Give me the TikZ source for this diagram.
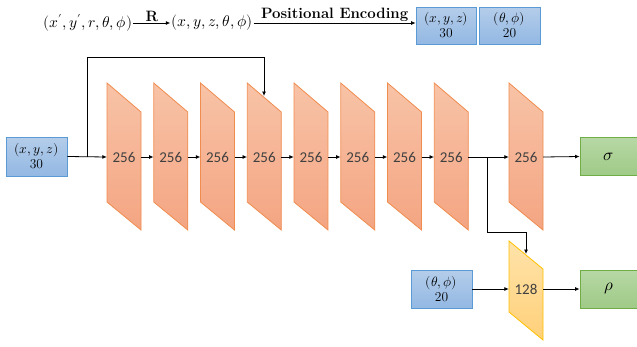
\documentclass[tikz,border=0pt]{standalone}
\usepackage{fontspec}
\usepackage{unicode-math}
\newfontfamily\calibri{Carlito}
\usetikzlibrary{arrows.meta}
\definecolor{bluet}{HTML}{B4CDEA}
\definecolor{blueb}{HTML}{93B8E3}
\definecolor{blued}{HTML}{5B9BD5}
\definecolor{oranget}{HTML}{F8C3A7}
\definecolor{orangeb}{HTML}{F4A582}
\definecolor{oranged}{HTML}{F08C4E}
\definecolor{greent}{HTML}{B7D8A5}
\definecolor{greenb}{HTML}{9FCA87}
\definecolor{greend}{HTML}{70AD47}
\definecolor{yellowt}{HTML}{FFE3AA}
\definecolor{yellowb}{HTML}{FFD079}
\definecolor{yellowd}{HTML}{FFC000}
\definecolor{txtgray}{HTML}{404040}
\tikzset{
  arr/.style={-{Latex[length=4.5pt,width=4pt]}, line width=0.8pt},
  bluebox/.style={draw=blued, line width=0.8pt, top color=bluet, bottom color=blueb,
    minimum width=60pt, minimum height=38pt, inner sep=0pt, align=center,
    font=\fontsize{13.5}{15}\selectfont},
  greenbox/.style={draw=greend, line width=0.8pt, top color=greent, bottom color=greenb,
    minimum width=57pt, minimum height=38pt, inner sep=0pt,
    font=\fontsize{17}{19}\selectfont},
  orangelayer/.style={draw=oranged, line width=0.8pt, top color=oranget, bottom color=orangeb},
  yellowlayer/.style={draw=yellowd, line width=0.8pt, top color=yellowt, bottom color=yellowb},
  layertext/.style={minimum width=34pt, minimum height=20pt, inner sep=0pt,
    text=txtgray, font=\calibri\fontsize{15}{16}\selectfont},
  toptext/.style={inner sep=1pt, font=\fontsize{15.5}{17}\selectfont},
  lbl/.style={font=\bfseries\fontsize{15}{17}\selectfont, inner sep=1pt}
}
\begin{document}
\begin{tikzpicture}[x=1pt,y=-1pt]
\useasboundingbox (0,0) rectangle (637,346);

% top row
\node[toptext] (p1) at (88,23) {$(x',y',r,\theta,\phi)$};
\node[toptext] (p2) at (212,23) {$(x,y,z,\theta,\phi)$};
\node[bluebox, minimum width=60pt, minimum height=37pt] (e1) at (446,25.5) {$(x,y,z)$\\30};
\node[bluebox, minimum width=61pt, minimum height=37pt] (e2) at (509.5,25.5) {$(\theta,\phi)$\\20};
\draw[arr] (p1.east) -- node[lbl, above] (rl) {R} (p2.west);
\draw[arr] (p2.east) -- node[lbl, above] (pe) {Positional Encoding} (p2.east -| e1.west);

% layers
\foreach \i in {1,...,8} {
  \pgfmathsetmacro\xx{107+46.75*(\i-1)}
  \draw[orangelayer] (\xx,83) -- (\xx+34,112) -- (\xx+34,230) -- (\xx,202) -- cycle;
  \node[layertext] (L\i) at (\xx+17,157) {256};
}
\draw[orangelayer] (509,83) -- (543,112) -- (543,230) -- (509,202) -- cycle;
\node[layertext] (L9) at (526,157) {256};
\draw[yellowlayer] (509,241) -- (543,269) -- (543,340) -- (509,312) -- cycle;
\node[layertext] (Y) at (526,289) {128};

\foreach \i/\j in {1/2,2/3,3/4,4/5,5/6,6/7,7/8,8/9}
  \draw[arr] (L\i.east) -- (L\j.west);

% inputs / outputs
\node[bluebox, minimum width=61pt, minimum height=39pt] (in1) at (36.5,156.5) {$(x,y,z)$\\30};
\node[bluebox, minimum width=61pt, minimum height=38pt] (in2) at (441.5,289) {$(\theta,\phi)$\\20};
\node[greenbox] (sig) at (608.5,156.5) {$\sigma$};
\node[greenbox] (rho) at (608.5,289) {$\rho$};

\draw[arr] (in1.east) -- (L1.west);
\draw[arr] (L9.east) -- (sig.west);
\draw[arr] (in2.east) -- (Y.west);
\draw[arr] (Y.east) -- (rho.west);

% skip connection
\coordinate (b1) at (87,157);
\coordinate (t1) at (87,57);
\coordinate (s4) at (264,96);
\draw[arr] (b1) -- (t1) -| (s4);

% branch to direction layer
\coordinate (b2) at (487,157);
\coordinate (t2) at (487,232);
\coordinate (s128) at (526,254);
\draw[arr] (b2) -- (t2) -| (s128);
\end{tikzpicture}
\end{document}
